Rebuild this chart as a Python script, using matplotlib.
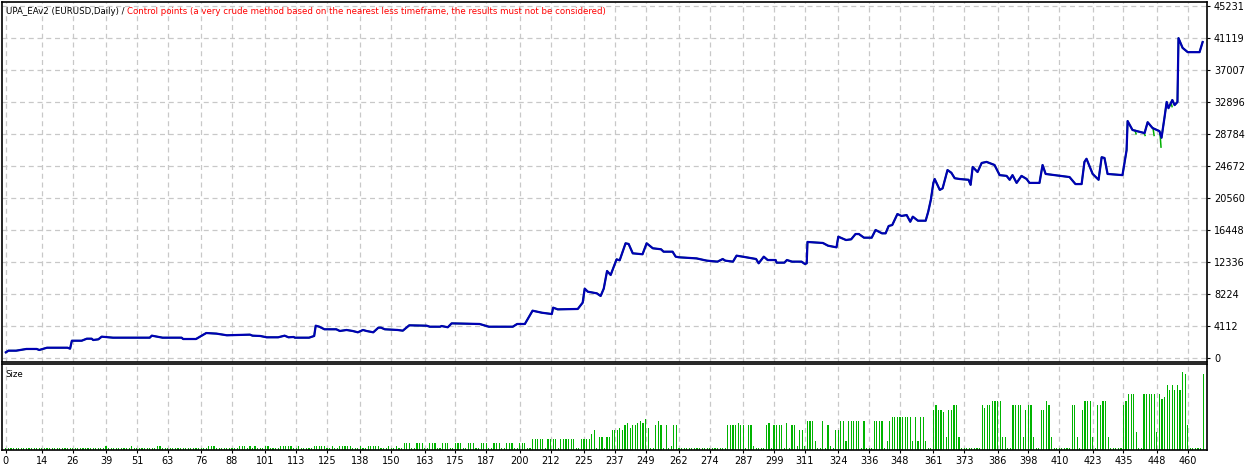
import numpy as np
import matplotlib.pyplot as plt

# equity curve: (bar index, value)
eq_idx = [0, 1, 4, 8, 12, 13, 16, 24, 25, 25.7, 29.5, 31.5, 33.4, 34, 36, 37.3, 41.7, 56, 56.8, 61,
          68.4, 69, 74, 76, 78, 82, 86, 95, 96, 99, 101.5, 106, 108.5, 110, 112, 112.5, 118, 120, 120.6, 122,
          124, 128.6, 130, 132.6, 135, 137, 139, 140.4, 143, 145, 146, 147.5, 152.5, 154.5, 157, 163.8, 165, 169, 169.6, 172,
          173.5, 184.4, 188, 197.3, 199, 202, 205, 208.6, 212.5, 213, 214.8, 222.6, 224.5, 225.3, 226.5, 230, 231.5, 232.7,
          234, 235.4, 237.7, 238.9, 241.2, 242.4, 244, 247.8, 249.4, 251.8, 255, 256, 259.5, 260.7, 262, 268.8, 272.8, 277,
          279, 280, 283, 284.4, 286.8, 292, 293, 295, 296.5, 299.6, 300, 303, 304, 306, 309.7, 311, 311.7, 312, 318, 320,
          323.3, 324, 327, 329, 330.7, 332, 334, 337, 338.5, 341, 342.4, 343.6, 345, 347, 348.6, 350.6, 352, 353, 355, 358, 359,
          360, 361, 361.5, 363.5, 364.6, 366.5, 368, 369.3, 371.2, 374.7, 375.5, 376.3, 378.2, 379.8, 381.7,
          384.8, 386.8, 389.5, 390.7, 391.8, 393.4, 395.3, 397.3, 398.4, 402.3, 403.5, 404.7, 414, 416.3,
          418.7, 419.8, 420.6, 423, 425.3, 426.5, 427.6, 428.8, 434.6, 436.2, 436.6, 438.5, 443.2, 444.4,
          446.3, 449, 449.8, 451, 451.8, 452.5, 454, 454.9, 456, 456.2, 456.4, 458, 460, 464.6, 465.8]
eq_val = [730, 940, 940, 1160, 1160, 1030, 1320, 1320, 1200, 2220, 2220, 2480, 2480, 2310, 2400, 2740, 2610, 2610, 2870, 2610,
          2610, 2440, 2440, 2830, 3210, 3130, 2920, 3000, 2870, 2830, 2660, 2660, 2870, 2660, 2700, 2610, 2610, 2830, 4150, 4020,
          3690, 3690, 3470, 3600, 3470, 3300, 3600, 3470, 3300, 3900, 3900, 3690, 3600, 3510, 4200, 4150, 4020, 4020, 4110, 3950,
          4450, 4370, 4020, 4020, 4370, 4370, 6080, 5820, 5650, 6470, 6250, 6300, 7110, 8910, 8520, 8310, 7970, 8910,
          11180, 10670, 12680, 12550, 14740, 14650, 13450, 13330, 14740, 14100, 13970, 13660, 13660, 13020, 12940, 12800, 12510, 12380,
          12720, 12510, 12380, 13150, 13020, 12720, 12170, 13020, 12590, 12590, 12250, 12250, 12590, 12380, 12380, 12080, 12170, 14910, 14780, 14430,
          14220, 15590, 15160, 15250, 15930, 15930, 15460, 15460, 16450, 16020, 16020, 16960, 17090, 18500, 18250, 18370, 17510, 18160, 17640, 17640, 18800,
          20300, 22500, 23000, 21600, 21800, 24150, 23800, 23100, 23000, 22900, 22250, 24550, 23900, 25060, 25200,
          24800, 23500, 23400, 22900, 23500, 22500, 23400, 23000, 22500, 22500, 24800, 23650, 23250, 22350,
          22350, 25200, 25600, 23650, 22900, 25800, 25700, 23650, 23500, 26700, 30450, 29300, 28900, 30300,
          29550, 29150, 28300, 31000, 32900, 32100, 33150, 32500, 32900, 37000, 41100, 39850, 39300, 39300, 40600]

# balance dips where the green line shows below the equity
dip_idx = [446.5, 449.2, 453.5, 439.5, 443.0]
dip_val = [28600, 27100, 32300, 28800, 28600]

# lot size per bar (base-36 codes, units of the lower panel scale)
size_codes = ("1" * 39 + "2" + "1" * 9 + "2" + "1" * 9 + "22" + "1" * 18 + "222" + "1" * 9
              + "222" + "1" + "212" + "111" + "22" + "1111" + "22222" + "11" + "2" + "11111" + "22222"
              + "11" + "2" + "11" + "22222" + "111" + "2" + "11" + "22222" + "11121121"
              + "13331" * 10 + "1"
              + "555551555515555" + "5511555579" + "1661669"
              + "99a9bcabbcdcea" + "11bdb1b1" + "2bb1" + "1" * 18 + "bbbbcbb1bb" + "21111"
              + "bc1bbbb1c1" + "bb2"
              + "992ddd411d1b21" + "99dd4ddddd1d1"
              + "11dddd14dfff" + "fffff4f4ff411" + "ikiih6iikk6111111"
              + "11kjkkmmmm6"
              + "611kkkk6ikk611iimk6" + "1" * 7 + "kk61immm61kkmm6" + "11111"
              + "kmppp811ppppp8pnotrtrtrzyb" + "11111" + "y")
sizes = [int(c, 36) for c in size_codes]

tick_labels = [0, 14, 26, 39, 51, 63, 76, 88, 101, 113, 125, 138, 150, 163, 175, 187, 200, 212, 225,
               237, 249, 262, 274, 287, 299, 311, 324, 336, 348, 361, 373, 386, 398, 410, 423, 435, 448, 460]
y_ticks = [0, 4112, 8224, 12336, 16448, 20560, 24672, 28784, 32896, 37007, 41119, 45231]

n = len(sizes)
x_max = 467.5
plt.rcParams['font.family'] = ['DejaVu Sans']
fig = plt.figure(figsize=(12.5, 4.67), dpi=100)
W, H = 1250, 467
ax1 = fig.add_axes([2 / W, (H - 362) / H, 1205 / W, 360 / H])
ax2 = fig.add_axes([2 / W, (H - 450) / H, 1205 / W, 86 / H])

grid_kw = dict(color='#c8c8c8', linestyle=(0, (4, 3)), linewidth=0.9)

# top panel
for tp in tick_labels:
    ax1.axvline(tp, zorder=0, **grid_kw)
for yt in y_ticks:
    ax1.axhline(yt, zorder=0, **grid_kw)
ax1.plot(eq_idx, eq_val, color='#00b000', linewidth=1.2, zorder=2)
for di, dv in zip(dip_idx, dip_val):
    ev = np.interp(di, eq_idx, eq_val)
    ax1.plot([di, di + 0.4], [ev, dv], color='#00b000', linewidth=1.1, zorder=2)
ax1.plot(eq_idx, eq_val, color='#0000b4', linewidth=1.6, zorder=3)
ax1.set_xlim(-1.5, x_max)
ax1.set_ylim(-514, 45745)
ax1.set_xticks([])
ax1.yaxis.tick_right()
ax1.set_yticks(y_ticks)
ax1.set_yticklabels([str(v) for v in y_ticks], fontsize=7)
ax1.tick_params(axis='y', length=2, pad=3)
t1 = ax1.text(0.003, 0.985, "UPA_EAv2 (EURUSD,Daily) / ", transform=ax1.transAxes,
              fontsize=6.2, va='top', ha='left', color='black')
ax1.annotate("Control points (a very crude method based on the nearest less timeframe, the results must not be considered)",
             xy=(1, 0), xycoords=t1, va='bottom', ha='left', fontsize=6.2, color='red')

# bottom panel
for tp in tick_labels:
    ax2.axvline(tp, zorder=0, **grid_kw)
ax2.bar(range(n), sizes, width=0.45, color='#00b400', zorder=2)
ax2.set_xlim(-1.5, x_max)
ax2.set_ylim(0, 38.6)
ax2.set_yticks([])
ax2.set_xticks(tick_labels)
ax2.set_xticklabels([str(v) for v in tick_labels], fontsize=7)
ax2.tick_params(axis='x', length=2, pad=2)
ax2.text(0.003, 0.93, "Size", transform=ax2.transAxes, fontsize=6.2, va='top', ha='left')

for ax in (ax1, ax2):
    for s in ax.spines.values():
        s.set_linewidth(1.2)

fig.savefig('out.png', dpi=100)
